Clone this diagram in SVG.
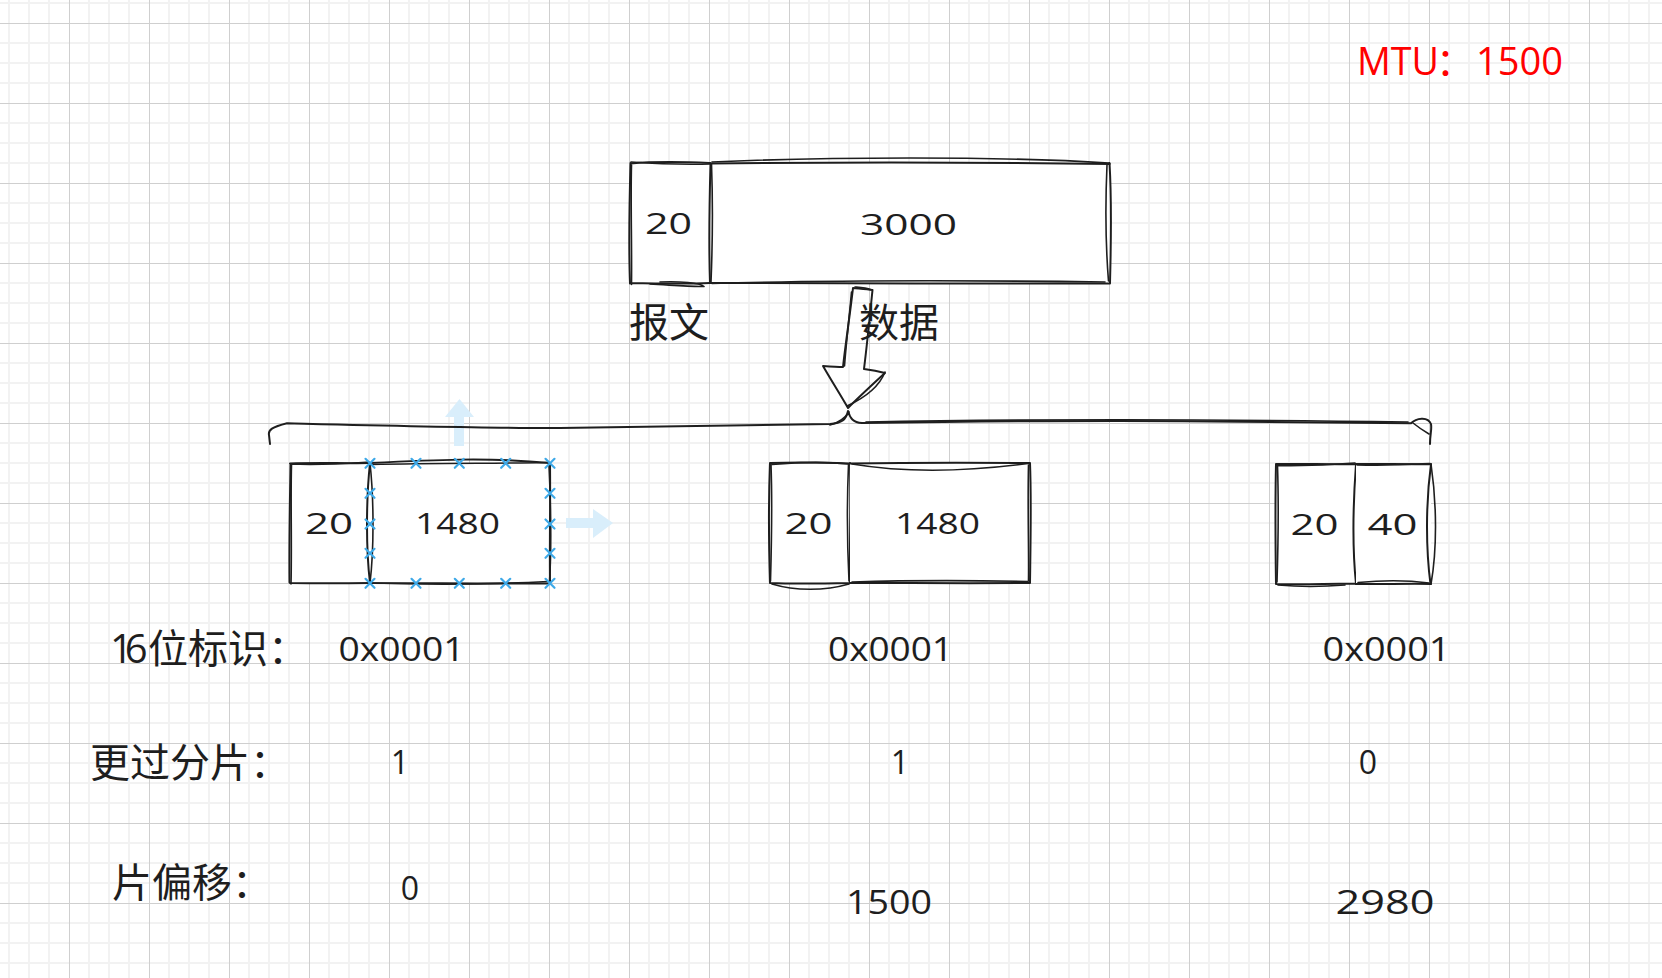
<svg xmlns="http://www.w3.org/2000/svg" xmlns:xlink="http://www.w3.org/1999/xlink" width="1662" height="978" viewBox="0 0 1662 978">
  <style>
    .ink { fill: none; stroke: #1e1e1e; stroke-width: 2; stroke-linecap: round; stroke-linejoin: round; }
    .ink2 { fill: none; stroke: #1e1e1e; stroke-width: 1.6; stroke-linecap: round; stroke-linejoin: round; }
    .box { fill: #ffffff; stroke: none; }
    .num { font-family: "Open Sans", "Noto Sans", sans-serif; font-size: 29px; fill: #1e1e1e; }
    .val { font-family: "Open Sans", "Noto Sans", sans-serif; font-size: 32px; fill: #1e1e1e; }
    .lbl { font-family: "Open Sans", "Noto Sans CJK SC", sans-serif; font-size: 40px; fill: #1e1e1e; }
    .mtu { font-family: "Open Sans", "Noto Sans CJK SC", sans-serif; font-size: 38px; fill: #ff0000; }
    .sel { fill: none; stroke: #3ea9e8; stroke-width: 2.2; stroke-linecap: round; }
    .hint { fill: #d9eefb; }
  </style>
  <defs>
    <pattern id="grid" patternUnits="userSpaceOnUse" x="59" y="13" width="80" height="80">
      <path d="M30 0V80M50 0V80M70 0V80M0 30H80M0 50H80M0 70H80" stroke="#f2f2f2" stroke-width="2" fill="none"/>
      <path d="M10.5 0V80M0 10.5H80" stroke="#cfcfcf" stroke-width="1" fill="none"/>
    </pattern>
    <path id="xm" d="M-4.5 -4.5L4.5 4.5M4.5 -4.5L-4.5 4.5"/>
  </defs>

  <!-- paper -->
  <rect width="1662" height="978" fill="#ffffff"/>
  <rect width="1662" height="978" fill="url(#grid)"/>

  <!-- MTU note -->
  <g id="mtu-note">
    <text class="mtu" y="75"><tspan x="1357" textLength="82" lengthAdjust="spacingAndGlyphs">MTU</tspan><tspan x="1436">：</tspan><tspan x="1476" textLength="87" lengthAdjust="spacingAndGlyphs">1500</tspan></text>
  </g>

  <!-- original datagram: header -->
  <g id="dgram-header">
    <rect class="box" x="630" y="163" width="80" height="120"/>
    <path class="ink" d="M630.5 163.5C655 161.5 685 162 709.5 163M630 283.5C628.5 245 629.5 200 630.5 163M710 283C685 284 655 283.5 630 283"/>
    <path class="ink2" d="M631 162C660 164 690 164.5 710.5 164M631.5 284.5C632 245 630.5 200 631.5 165M660 282C680 281 700 283 704 286.5C690 287 670 285 650 284"/>
    <text class="num" x="645" y="234" textLength="47" lengthAdjust="spacingAndGlyphs">20</text>
  </g>

  <!-- original datagram: payload -->
  <g id="dgram-data">
    <rect class="box" x="710" y="163" width="400" height="120"/>
    <path class="ink" d="M710 163.5C850 162 1000 162.5 1110 164M1109.5 163C1112 205 1111 245 1110 283M1110 283.5C980 284 840 283 710.5 283M710 283C708.5 240 709.5 200 710.5 163"/>
    <path class="ink2" d="M712 162C820 157 1000 156 1109 163M1107 165C1105 210 1106 250 1108.5 281M1105 282C950 280 800 281 712 283.5M711.5 164C713 205 712.5 245 711 282"/>
    <text class="num" x="860" y="235" textLength="97" lengthAdjust="spacingAndGlyphs">3000</text>
  </g>

  <g id="label-header">
    <text class="lbl" x="629" y="337">报文</text>
  </g>
  <g id="label-data">
    <text class="lbl" x="859" y="337">数据</text>
  </g>

  <!-- fragment 1 -->
  <g id="frag1-header">
    <rect class="box" x="290" y="463" width="80" height="120"/>
    <path class="ink" d="M290 463.5C315 462.5 345 463.5 370 463M370 583C340 583.5 315 583.5 290 583M289.5 582.5C289 540 290 500 290.5 463.5"/>
    <path class="ink2" d="M291 464C320 465.5 340 464 369 462M291 584C292 545 290.5 500 291.5 465"/>
    <text class="num" x="305" y="534" textLength="48" lengthAdjust="spacingAndGlyphs">20</text>
  </g>
  <g id="frag1-data">
    <rect class="box" x="370" y="463" width="180" height="120"/>
    <path class="ink" d="M370 463C430 460 490 457 550 463M550 463C550.5 500 549.5 545 550 583M550 583.5C490 584 430 583 370.5 583M370 463C366 500 366 550 370 583"/>
    <path class="ink2" d="M371 464.5C440 463 500 463.5 549 462.5M549 465C551 510 551.5 550 549.5 582M548 581.5C480 585 420 584.5 372 583M370 463C374 500 374 550 370 583"/>
    <text class="num" x="415" y="534" textLength="85" lengthAdjust="spacingAndGlyphs">1480</text>
    <!-- selection handles -->
    <g class="sel">
      <use xlink:href="#xm" x="370" y="463.3"/><use xlink:href="#xm" x="416" y="463.3"/><use xlink:href="#xm" x="459.3" y="463.3"/><use xlink:href="#xm" x="505.7" y="463.3"/><use xlink:href="#xm" x="550" y="463.3"/>
      <use xlink:href="#xm" x="370" y="583.3"/><use xlink:href="#xm" x="416" y="583.3"/><use xlink:href="#xm" x="459.3" y="583.3"/><use xlink:href="#xm" x="505.7" y="583.3"/><use xlink:href="#xm" x="550" y="583.3"/>
      <use xlink:href="#xm" x="370" y="493.3"/><use xlink:href="#xm" x="370" y="524"/><use xlink:href="#xm" x="370" y="553.3"/>
      <use xlink:href="#xm" x="550" y="493.3"/><use xlink:href="#xm" x="550" y="524"/><use xlink:href="#xm" x="550" y="553.3"/>
    </g>
    <polygon class="hint" points="454,446 454,417 445,417 459.5,399 474,417 464,417 464,446"/>
    <polygon class="hint" points="566,518 593,518 593,509 613,523 593,538 593,528 566,528"/>
  </g>

  <!-- fragment 2 -->
  <g id="frag2-header">
    <rect class="box" x="770" y="463" width="80" height="120"/>
    <path class="ink" d="M770 463C795 462 825 462.5 850 463.5M770 463C768.5 500 769 550 770 583M770 583C795 584 825 583.5 850 583M850 463C851 505 849.5 545 850 583"/>
    <path class="ink2" d="M772 464.5C800 462 830 462 849 464M771 465C772.5 505 771.5 545 770.5 581M772 584C795 591 825 591 849 584M848.5 465C846.5 510 847.5 550 849 581"/>
    <text class="num" x="784.5" y="534" textLength="48" lengthAdjust="spacingAndGlyphs">20</text>
  </g>
  <g id="frag2-data">
    <rect class="box" x="850" y="463" width="180" height="120"/>
    <path class="ink" d="M850 463.5C910 462.5 970 462.5 1030 463M1030 463C1031.5 500 1030.5 545 1030 583M1030 583C970 583.5 910 583 850 583"/>
    <path class="ink2" d="M852 464C900 472 960 472.5 1028 463.5M1028.5 465C1027.5 510 1029 550 1028.5 581M1028 581.5C960 580 900 580.5 852 582"/>
    <text class="num" x="895" y="534" textLength="85" lengthAdjust="spacingAndGlyphs">1480</text>
  </g>

  <!-- fragment 3 -->
  <g id="frag3-header">
    <rect class="box" x="1276" y="464" width="80" height="120"/>
    <path class="ink" d="M1276 464C1300 463.5 1330 464.5 1356 464M1276 464C1275 510 1275.5 550 1276 584M1276 584C1300 584.5 1330 584 1356 583.5M1356 464C1353 505 1352.5 550 1356 584"/>
    <path class="ink2" d="M1277 465.5C1305 466 1330 465 1355 463M1277.5 466C1279 510 1278 550 1277 582M1278 585C1300 587 1320 587 1345 585M1356 464C1359 505 1359.5 550 1356 584"/>
    <text class="num" x="1290.5" y="535" textLength="48" lengthAdjust="spacingAndGlyphs">20</text>
  </g>
  <g id="frag3-data">
    <rect class="box" x="1356" y="464" width="75" height="120"/>
    <path class="ink" d="M1356 464C1380 463.5 1405 464.5 1431 464M1431 464C1425.5 505 1426 550 1430.5 584M1356 584C1380 584.5 1405 583.5 1431 584"/>
    <path class="ink2" d="M1357 465C1385 465.5 1410 464 1430 463.5M1431 464C1437 505 1437 550 1431 584M1358 582.5C1385 580 1410 580.5 1429 583"/>
    <text class="num" x="1367.5" y="535" textLength="50" lengthAdjust="spacingAndGlyphs">40</text>
  </g>

  <!-- row labels -->
  <g id="row-id">
    <text class="lbl" y="663"><tspan x="110" letter-spacing="-8">16</tspan><tspan x="148" letter-spacing="0">位标识：</tspan></text>
  </g>
  <g id="row-mf">
    <text class="lbl" x="90" y="777">更过分片：</text>
  </g>
  <g id="row-offset">
    <text class="lbl" x="112" y="897">片偏移：</text>
  </g>

  <!-- per-fragment values -->
  <g id="vals-frag1">
    <text class="val" x="338.5" y="661" textLength="126" lengthAdjust="spacingAndGlyphs">0x0001</text>
    <text class="val" x="400" y="774" text-anchor="middle">1</text>
    <text class="val" x="410" y="900" text-anchor="middle">0</text>
  </g>
  <g id="vals-frag2">
    <text class="val" x="828" y="661" textLength="125" lengthAdjust="spacingAndGlyphs">0x0001</text>
    <text class="val" x="900" y="774" text-anchor="middle">1</text>
    <text class="val" x="846" y="914" textLength="86" lengthAdjust="spacingAndGlyphs">1500</text>
  </g>
  <g id="vals-frag3">
    <text class="val" x="1322.5" y="661" textLength="128" lengthAdjust="spacingAndGlyphs">0x0001</text>
    <text class="val" x="1368" y="774" text-anchor="middle">0</text>
    <text class="val" x="1335.5" y="914" textLength="99" lengthAdjust="spacingAndGlyphs">2980</text>
  </g>

  <!-- connectors: split arrow and brace over the fragments -->
  <g id="connectors">
    <path class="ink" d="M853 288C858 288.5 866 289.5 872.5 290C870 315 867 345 864 369C871 370 879 371.5 885 373C872 385 860 396 848 408C840 394 831 380 823 366C830 366.5 837 367 843 367C846 340 850 315 853 288Z"/>
    <path class="ink2" d="M855 287C860 287.5 866 288 871 289.5M851.5 292C849 320 846 345 844.5 366M885 372C878 390 860 400 847 406"/>
    <path class="ink" d="M270 444L269 435C268 430 272 427 287 423.3C400 426 500 428.5 560 428C650 427.5 740 426 830 424C842 423 846 420 848 411C850 418 853 422.5 862 423C1000 421 1160 420.5 1240 421.7C1320 422.5 1380 423.5 1411 423.3C1416 418 1428 416 1431 424C1432 430 1430 434 1430 444"/>
    <path class="ink2" d="M1413 423C1418 427 1424 431 1429 434M866 422C1000 419.5 1200 419 1408 422M830 425C838 423 845 418 849 412"/>
  </g>
</svg>
